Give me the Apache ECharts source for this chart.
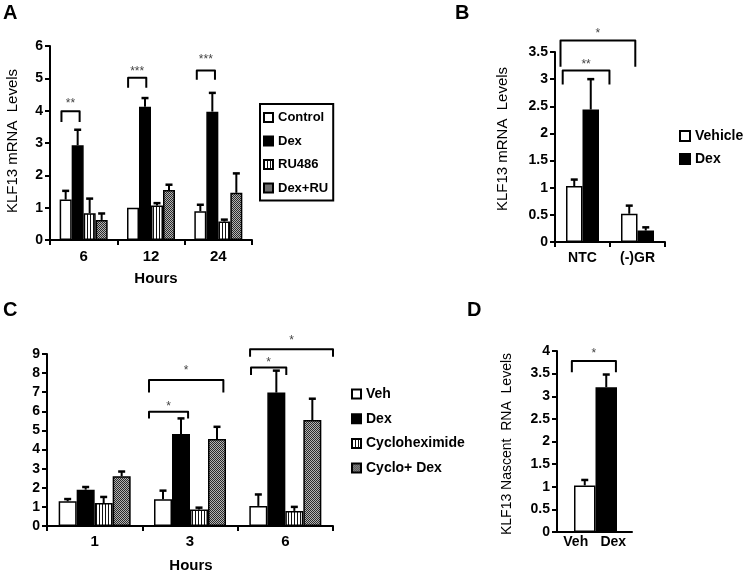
<!DOCTYPE html>
<html>
<head>
<meta charset="utf-8">
<script src="https://cdn.jsdelivr.net/npm/echarts@6/dist/echarts.min.js"></script>
<style>
html,body{margin:0;padding:0;background:#fff;}
#chart{width:745px;height:571px;}
</style>
</head>
<body>
<div id="chart"></div>
<script>
// ---------- Panel A ----------
const hoursA = ['6', '12', '24'];
const namesA = ['Control', 'Dex', 'RU486', 'Dex+RU'];
const controlA = [1.25, 1.0, 0.89];
const controlAErr = [0.27, 0, 0.2];
const dexA = [2.93, 4.12, 3.97];
const dexAErr = [0.48, 0.27, 0.58];
const ru486A = [0.83, 1.07, 0.57];
const ru486AErr = [0.45, 0.07, 0.06];
const dexRuA = [0.62, 1.55, 1.46];
const dexRuAErr = [0.2, 0.16, 0.6];
const ticksA = [0, 6, 1];
// brackets: [cat1, frac1, cat2, frac2, top, leg, starY]
const bracketsA = [[0, -0.33, 0, -0.06, 3.98, 3.65, 4.32], [1, -0.34, 1, -0.07, 5.02, 4.71, 5.3], [2, -0.32, 2, -0.05, 5.24, 4.96, 5.68]];
const starsA = ['**', '***', '***'];

// ---------- Panel B ----------
const groupsB = ['NTC', '(-)GR'];
const namesB = ['Vehicle', 'Dex'];
const vehicleB = [1.03, 0.52];
const vehicleBErr = [0.12, 0.15];
const dexB = [2.44, 0.21];
const dexBErr = [0.56, 0.06];
const ticksB = [0, 3.5, 0.5];
const bracketsB = [[0, -0.36, 0, 0.49, 3.16, 2.9, 3.33], [0, -0.4, 0, 0.96, 3.71, 3.23, 3.9]];
const starsB = ['**', '*'];

// ---------- Panel C ----------
const hoursC = ['1', '3', '6'];
const namesC = ['Veh', 'Dex', 'Cycloheximide', 'Cyclo+ Dex'];
const vehC = [1.29, 1.4, 1.05];
const vehCErr = [0.12, 0.45, 0.6];
const dexC = [1.9, 4.81, 6.98];
const dexCErr = [0.14, 0.82, 1.15];
const cycloC = [1.2, 0.86, 0.79];
const cycloCErr = [0.32, 0.1, 0.21];
const cycloDexC = [2.6, 4.55, 5.54];
const cycloDexCErr = [0.25, 0.64, 1.12];
const ticksC = [0, 9, 1];
const bracketsC = [[1, -0.43, 1, -0.02, 5.98, 5.63, 6.42], [1, -0.43, 1, 0.35, 7.64, 6.98, 8.3], [2, -0.36, 2, 0.01, 8.3, 7.9, 8.69], [2, -0.37, 2, 0.5, 9.25, 8.86, 9.83]];
const starsC = ['*', '*', '*', '*'];

// ---------- Panel D ----------
const groupsD = ['Veh', 'Dex'];
const valuesD = [1.03, 3.2];
const errD = [0.12, 0.28];
const ticksD = [0, 4, 0.5];
const bracketsD = [[0, -0.6, 1, 0.45, 3.78, 3.53, 4.0]];
const starsD = ['*'];

// ---------- styling helpers ----------
const FONT = '"Liberation Sans", Arial, sans-serif';

function makeStripe() {
  const c = document.createElement('canvas');
  c.width = 3; c.height = 4;
  const g = c.getContext('2d');
  g.fillStyle = '#fff'; g.fillRect(0, 0, 3, 4);
  g.fillStyle = '#111'; g.fillRect(0, 0, 1, 4);
  return c;
}
function makeChecker() {
  const c = document.createElement('canvas');
  c.width = 2; c.height = 2;
  const g = c.getContext('2d');
  g.fillStyle = '#b4b4b4'; g.fillRect(0, 0, 2, 2);
  g.fillStyle = '#2a2a2a'; g.fillRect(0, 0, 1, 1); g.fillRect(1, 1, 1, 1);
  return c;
}
const stripeFill = { image: makeStripe(), repeat: 'repeat' };
const checkFill = { image: makeChecker(), repeat: 'repeat' };
const fills = ['#fff', '#000', stripeFill, checkFill];

function yAxis(idx, t, show) {
  return {
    type: 'value', gridIndex: idx, min: t[0], max: t[1], interval: t[2], show: show !== false,
    axisLine: { show: true, lineStyle: { color: '#000', width: 2 } },
    axisTick: { show: true, length: 5, lineStyle: { color: '#000', width: 2 } },
    axisLabel: { color: '#000', fontWeight: 'bold', fontSize: 14, fontFamily: FONT, margin: 7 },
    splitLine: { show: false }
  };
}
function xAxis(idx, cats, opts) {
  opts = opts || {};
  return {
    type: 'category', gridIndex: idx, data: cats, show: opts.show !== false,
    axisLine: { show: true, onZero: false, lineStyle: { color: '#000', width: 2 } },
    axisTick: { show: opts.ticks !== false, length: 5, lineStyle: { color: '#000', width: 2 } },
    axisLabel: { color: '#000', fontWeight: 'bold', fontSize: opts.fs || 15, fontFamily: FONT, margin: opts.margin == null ? 9 : opts.margin, interval: 0 },
    splitLine: { show: false }
  };
}
function bar(name, data, idx, fill, w) {
  return {
    type: 'bar', name: name, data: data, xAxisIndex: idx, yAxisIndex: idx,
    barWidth: w, barGap: '0%', animation: false, silent: true,
    itemStyle: { color: fill, borderColor: '#000', borderWidth: 1.5 }
  };
}
function errSeries(idx, list, barW) {
  const data = [];
  const n = list.length;
  list.forEach(function (pair, s) {
    pair[0].forEach(function (v, i) { data.push([i, v, pair[1][i], s]); });
  });
  return {
    type: 'custom', name: 'err' + idx, xAxisIndex: idx, yAxisIndex: idx, data: data, clip: false,
    encode: { x: 0, y: 1 }, animation: false, silent: true, z: 3,
    renderItem: function (params, api) {
      const cat = api.value(0), v = api.value(1), e = api.value(2), s = api.value(3);
      if (!e) return null;
      const b = api.coord([cat, v]);
      const t = api.coord([cat, v + e]);
      const x = b[0] + (s - (n - 1) / 2) * barW;
      return {
        type: 'group', children: [
          { type: 'line', shape: { x1: x, y1: b[1], x2: x, y2: t[1] }, style: { stroke: '#000', lineWidth: 2 } },
          { type: 'line', shape: { x1: x - 3.5, y1: t[1], x2: x + 3.5, y2: t[1] }, style: { stroke: '#000', lineWidth: 2.5 } }
        ]
      };
    }
  };
}
function bracketSeries(idx, list, stars) {
  return {
    type: 'custom', name: 'br' + idx, xAxisIndex: idx, yAxisIndex: idx, data: list, clip: false,
    encode: { x: 0, y: 4 }, animation: false, silent: true, z: 4,
    renderItem: function (params, api) {
      const w = api.size([1, 0])[0];
      const p1 = api.coord([api.value(0), api.value(4)]);
      const p2 = api.coord([api.value(2), api.value(4)]);
      const x1 = p1[0] + api.value(1) * w, x2 = p2[0] + api.value(3) * w;
      const yT = p1[1];
      const yL = api.coord([api.value(0), api.value(5)])[1];
      const yS = api.coord([api.value(0), api.value(6)])[1];
      return {
        type: 'group', children: [
          { type: 'polyline', shape: { points: [[x1, yL], [x1, yT], [x2, yT], [x2, yL]] },
            style: { stroke: '#000', lineWidth: 2, fill: null, lineJoin: 'round' } },
          { type: 'text', style: { text: stars[params.dataIndex], x: (x1 + x2) / 2, y: yS + 3,
            align: 'center', verticalAlign: 'middle', font: '12px ' + FONT, fill: '#444' } }
        ]
      };
    }
  };
}
function legendStyle() {
  return { color: '#000', fontWeight: 'bold', fontSize: 14, fontFamily: FONT };
}

const option = {
  backgroundColor: '#fff',
  animation: false,
  grid: [
    { left: 50, top: 46, width: 202, height: 194 },
    { left: 555, top: 52, width: 110, height: 190 },
    { left: 47, top: 354, width: 286, height: 172 },
    { left: 557, top: 351, width: 75, height: 181 },
    { left: 574, top: 351, width: 43, height: 181 }
  ],
  xAxis: [
    xAxis(0, hoursA),
    xAxis(1, groupsB, { fs: 14, margin: 9 }),
    xAxis(2, hoursC, { margin: 8 }),
    xAxis(3, groupsD, { ticks: false, fs: 14, margin: 3 }),
    xAxis(4, groupsD, { show: false })
  ],
  yAxis: [
    yAxis(0, ticksA), yAxis(1, ticksB), yAxis(2, ticksC), yAxis(3, ticksD), yAxis(4, ticksD, false)
  ],
  legend: [
    { data: namesA, orient: 'vertical', left: 260, top: 104, padding: [7, 5, 6, 3], itemGap: 10.5,
      itemWidth: 9, itemHeight: 9, icon: 'rect', borderColor: '#000', borderWidth: 2,
      textStyle: { color: '#000', fontWeight: 'bold', fontSize: 13, fontFamily: FONT }, selectedMode: false },
    { data: namesB, orient: 'vertical', left: 679, top: 129, padding: 0, itemGap: 9,
      itemWidth: 10, itemHeight: 10, icon: 'rect', textStyle: legendStyle(), selectedMode: false },
    { data: namesC, orient: 'vertical', left: 351, top: 387, padding: 0, itemGap: 10.7,
      itemWidth: 9, itemHeight: 9, icon: 'rect', textStyle: legendStyle(), selectedMode: false }
  ],
  graphic: [
    { type: 'text', left: 3, top: 3, style: { text: 'A', font: 'bold 20px ' + FONT, fill: '#000' } },
    { type: 'text', left: 455, top: 3, style: { text: 'B', font: 'bold 20px ' + FONT, fill: '#000' } },
    { type: 'text', left: 3, top: 300, style: { text: 'C', font: 'bold 20px ' + FONT, fill: '#000' } },
    { type: 'text', left: 467, top: 300, style: { text: 'D', font: 'bold 20px ' + FONT, fill: '#000' } },
    { type: 'text', x: 13, y: 141, rotation: Math.PI / 2, style: { text: 'KLF13 mRNA  Levels', align: 'center', verticalAlign: 'middle', font: '15px ' + FONT, fill: '#000' } },
    { type: 'text', x: 503, y: 139, rotation: Math.PI / 2, style: { text: 'KLF13 mRNA  Levels', align: 'center', verticalAlign: 'middle', font: '15px ' + FONT, fill: '#000' } },
    { type: 'text', x: 507, y: 444, rotation: Math.PI / 2, style: { text: 'KLF13 Nascent  RNA  Levels', align: 'center', verticalAlign: 'middle', font: '14px ' + FONT, fill: '#000' } },
    { type: 'text', x: 156, y: 279, style: { text: 'Hours', align: 'center', verticalAlign: 'middle', font: 'bold 15px ' + FONT, fill: '#000' } },
    { type: 'text', x: 191, y: 566, style: { text: 'Hours', align: 'center', verticalAlign: 'middle', font: 'bold 15px ' + FONT, fill: '#000' } }
  ],
  series: [
    bar(namesA[0], controlA, 0, fills[0], 12),
    bar(namesA[1], dexA, 0, fills[1], 12),
    bar(namesA[2], ru486A, 0, fills[2], 12),
    bar(namesA[3], dexRuA, 0, fills[3], 12),
    errSeries(0, [[controlA, controlAErr], [dexA, dexAErr], [ru486A, ru486AErr], [dexRuA, dexRuAErr]], 12),
    bracketSeries(0, bracketsA, starsA),

    bar(namesB[0], vehicleB, 1, fills[0], 16.5),
    bar(namesB[1], dexB, 1, fills[1], 16.5),
    errSeries(1, [[vehicleB, vehicleBErr], [dexB, dexBErr]], 16.5),
    bracketSeries(1, bracketsB, starsB),

    bar(namesC[0], vehC, 2, fills[0], 18),
    bar(namesC[1], dexC, 2, fills[1], 18),
    bar(namesC[2], cycloC, 2, fills[2], 18),
    bar(namesC[3], cycloDexC, 2, fills[3], 18),
    errSeries(2, [[vehC, vehCErr], [dexC, dexCErr], [cycloC, cycloCErr], [cycloDexC, cycloDexCErr]], 18),
    bracketSeries(2, bracketsC, starsC),

    {
      type: 'bar', name: 'Nascent', xAxisIndex: 4, yAxisIndex: 4, barWidth: '100%', animation: false, silent: true,
      data: valuesD.map(function (v, i) { return { value: v, itemStyle: { color: fills[i] } }; }),
      itemStyle: { borderColor: '#000', borderWidth: 1.5 }
    },
    errSeries(4, [[valuesD, errD]], 21.5),
    bracketSeries(4, bracketsD, starsD)
  ]
};

const chart = echarts.init(document.getElementById('chart'), null, { renderer: 'canvas' });
chart.setOption(option);
</script>
</body>
</html>
